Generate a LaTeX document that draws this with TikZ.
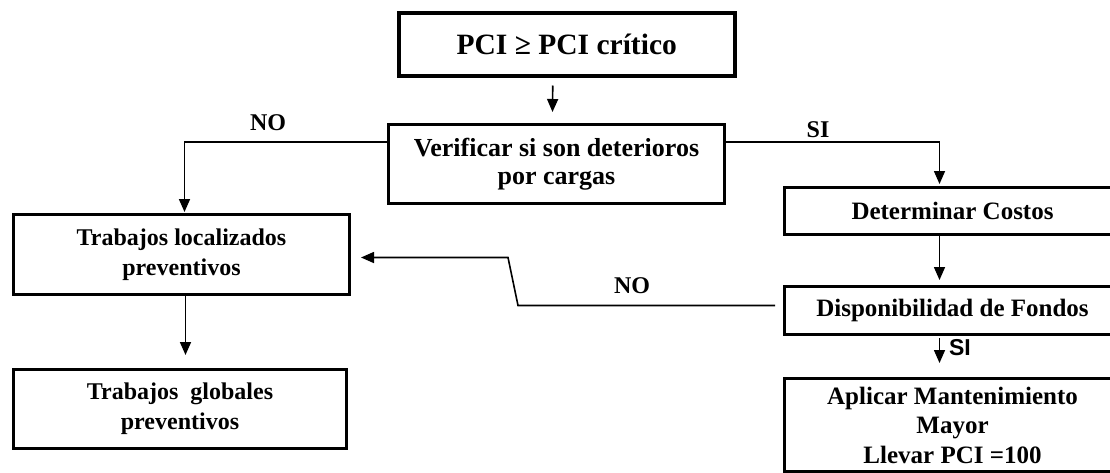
\documentclass[tikz,border=0pt]{standalone}
\usepackage{fontspec}
\setmainfont{Liberation Serif}
\newfontfamily\arialfont{Liberation Sans}
\usetikzlibrary{arrows.meta}
\begin{document}
\begin{tikzpicture}[x=1pt,y=-1pt,
  box/.style={draw, line width=3pt, inner sep=0pt, align=center, anchor=north west,
    font=\bfseries\fontsize{25}{29.5}\selectfont},
  conn/.style={line width=1.6pt},
  arr/.style={conn, -{Triangle[width=11pt,length=13pt]}},
  lbl/.style={inner sep=0pt, font=\bfseries\fontsize{24}{28}\selectfont}]
\useasboundingbox (0,0) rectangle (1110,472);
% boxes
\node[box, line width=3.5pt, minimum width=336pt, minimum height=63pt,
  font=\bfseries\fontsize{29.5}{34}\selectfont] (pci) at (397,11) {PCI ≥ PCI crítico};
\node[box, minimum width=336pt, minimum height=79pt, font=\bfseries\fontsize{26}{29.5}\selectfont] (verif) at (387,123)
  {Verificar si son deterioros\\[-1pt]por cargas};
\node[box, minimum width=336pt, minimum height=80pt, font=\bfseries\fontsize{24}{30}\selectfont] (loc) at (12,213)
  {Trabajos localizados\\preventivos};
\node[box, minimum width=333pt, minimum height=79pt, font=\bfseries\fontsize{24}{30}\selectfont] (glob) at (12,368)
  {Trabajos\ \ globales\\preventivos};
\node[box, minimum width=336pt, minimum height=47pt] (costos) at (783,186) {Determinar Costos};
\node[box, minimum width=336pt, minimum height=48pt] (fondos) at (783,285) {Disponibilidad de Fondos};
\node[box, minimum width=336pt, minimum height=93pt] (aplicar) at (783,377)
  {Aplicar Mantenimiento\\Mayor\\Llevar PCI =100};
% connectors
\draw[arr] ([xshift=-14pt,yshift=-8pt]pci.south) -- ([xshift=-4pt,yshift=11pt]verif.north);
\draw[arr] ([yshift=-19pt]verif.north west) -| ([xshift=3pt,yshift=1pt]loc.north);
\draw[arr] ([yshift=-19pt]verif.north east) -| ([xshift=-13pt,yshift=2pt]costos.north);
\draw[arr] ([xshift=4pt]loc.south) -- ([xshift=5.5pt,yshift=13pt]glob.north);
\draw[arr] ([xshift=-13pt]costos.south) -- ([xshift=-13pt,yshift=5pt]fondos.north);
\draw[arr] ([xshift=-13pt,yshift=-2pt]fondos.south) -- ([xshift=-13pt,yshift=14pt]aplicar.north);
\draw[arr] ([xshift=-8pt,yshift=5pt]fondos.west) -- ++(-257,0) -- ++(-10,-48)
  -- ([xshift=10pt,yshift=-3pt]loc.east);
% labels
\node[lbl] (no1) at (268,123) {NO};
\node[lbl] (si1) at (818,130) {SI};
\node[lbl] (no2) at (632,286) {NO};
\node[inner sep=0pt, font=\arialfont\bfseries\fontsize{23}{27}\selectfont] (si2) at (960,348) {SI};
\end{tikzpicture}
\end{document}
